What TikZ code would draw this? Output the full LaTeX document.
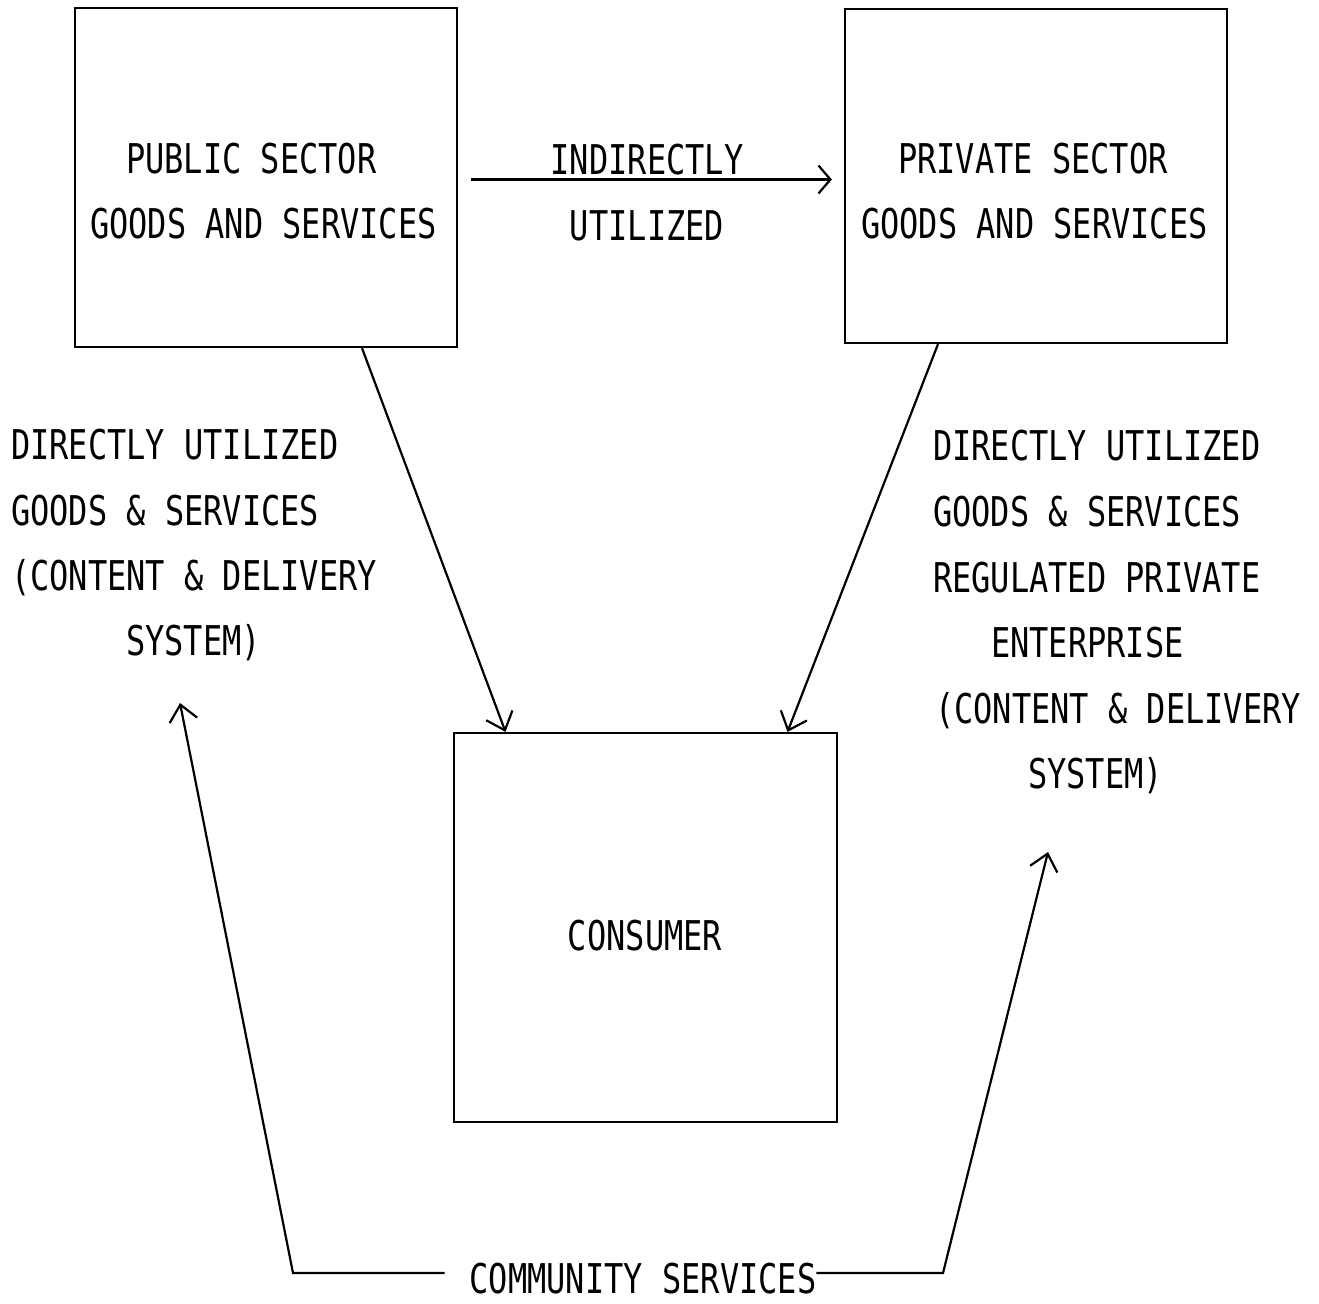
\documentclass[tikz,border=0pt]{standalone}
\usepackage{fontspec}
\usetikzlibrary{arrows.meta}
\newfontfamily\twfont[FakeStretch=0.78]{DejaVu Sans Mono}
\begin{document}
\begin{tikzpicture}[x=1pt,y=-1pt,
  box/.style={draw,line width=2.2pt,inner sep=0pt,minimum width=#1},
  txt/.style={inner sep=0pt,font=\twfont\fontsize{41}{65}\selectfont},
  arr/.style={line width=2.2pt,-{Straight Barb[length=16pt,width=28pt,line width=2.2pt]}},
  conn/.style={line width=2.2pt}]
\useasboundingbox (0,0) rectangle (1319,1303);
% boxes
\node[box=382pt,minimum height=339pt] (pub) at (266,177.5) {};
\node[box=382pt,minimum height=334pt] (pri) at (1036,176) {};
\node[box=383pt,minimum height=389pt] (con) at (645.5,927.5) {};
% box texts
\node[txt,anchor=base west] (pub1) at (126,173) {PUBLIC SECTOR};
\node[txt,anchor=base west] (pub2) at (90,238) {GOODS AND SERVICES};
\node[txt,anchor=base west] (pri1) at (898,173) {PRIVATE SECTOR};
\node[txt,anchor=base west] (pri2) at (861,238) {GOODS AND SERVICES};
\node[txt,anchor=base] (conT) at (645,950) {CONSUMER};
% indirectly
\node[txt,anchor=base] (ind1) at (647,174) {INDIRECTLY};
\node[txt,anchor=base] (ind2) at (647,240) {UTILIZED};
\draw[line width=2.2pt,-{Straight Barb[length=12pt,width=28pt,line width=2.2pt]}] ([xshift=13pt,yshift=-2pt]pub.east) -- ([xshift=-12pt,yshift=-2pt]pri.west |- pub.east);
% left text block
\node[txt,anchor=base west] (l1) at (11,459) {DIRECTLY UTILIZED};
\node[txt,anchor=base west] (l2) at (11,525) {GOODS \& SERVICES};
\node[txt,anchor=base west] (l3) at (11,590) {(CONTENT \& DELIVERY};
\node[txt,anchor=base west] (l4) at (126,655) {SYSTEM)};
% right text block
\node[txt,anchor=base west] (r1) at (933,460) {DIRECTLY UTILIZED};
\node[txt,anchor=base west] (r2) at (933,526) {GOODS \& SERVICES};
\node[txt,anchor=base west] (r3) at (933,592) {REGULATED PRIVATE};
\node[txt,anchor=base west] (r4) at (991,657) {ENTERPRISE};
\node[txt,anchor=base west] (r5) at (935,723) {(CONTENT \& DELIVERY};
\node[txt,anchor=base west] (r6) at (1028,788) {SYSTEM)};
% community services
\node[txt,anchor=base] (com) at (643,1293) {COMMUNITY SERVICES};
\coordinate (cl) at (293,1273);
\coordinate (cr) at (943,1273);
\coordinate (tl) at (180,703);
\coordinate (tr) at (1048,852);
% arrows to consumer
\draw[arr] ([xshift=96pt]pub.south) -- ([xshift=-140pt]con.north);
\draw[arr] ([xshift=-98pt]pri.south) -- ([xshift=142pt]con.north);
% community connectors
\draw[arr] ([xshift=-25pt]com.west |- cl) -- (cl) -- (tl);
\draw[arr] (com.east |- cr) -- (cr) -- (tr);
\end{tikzpicture}
\end{document}
